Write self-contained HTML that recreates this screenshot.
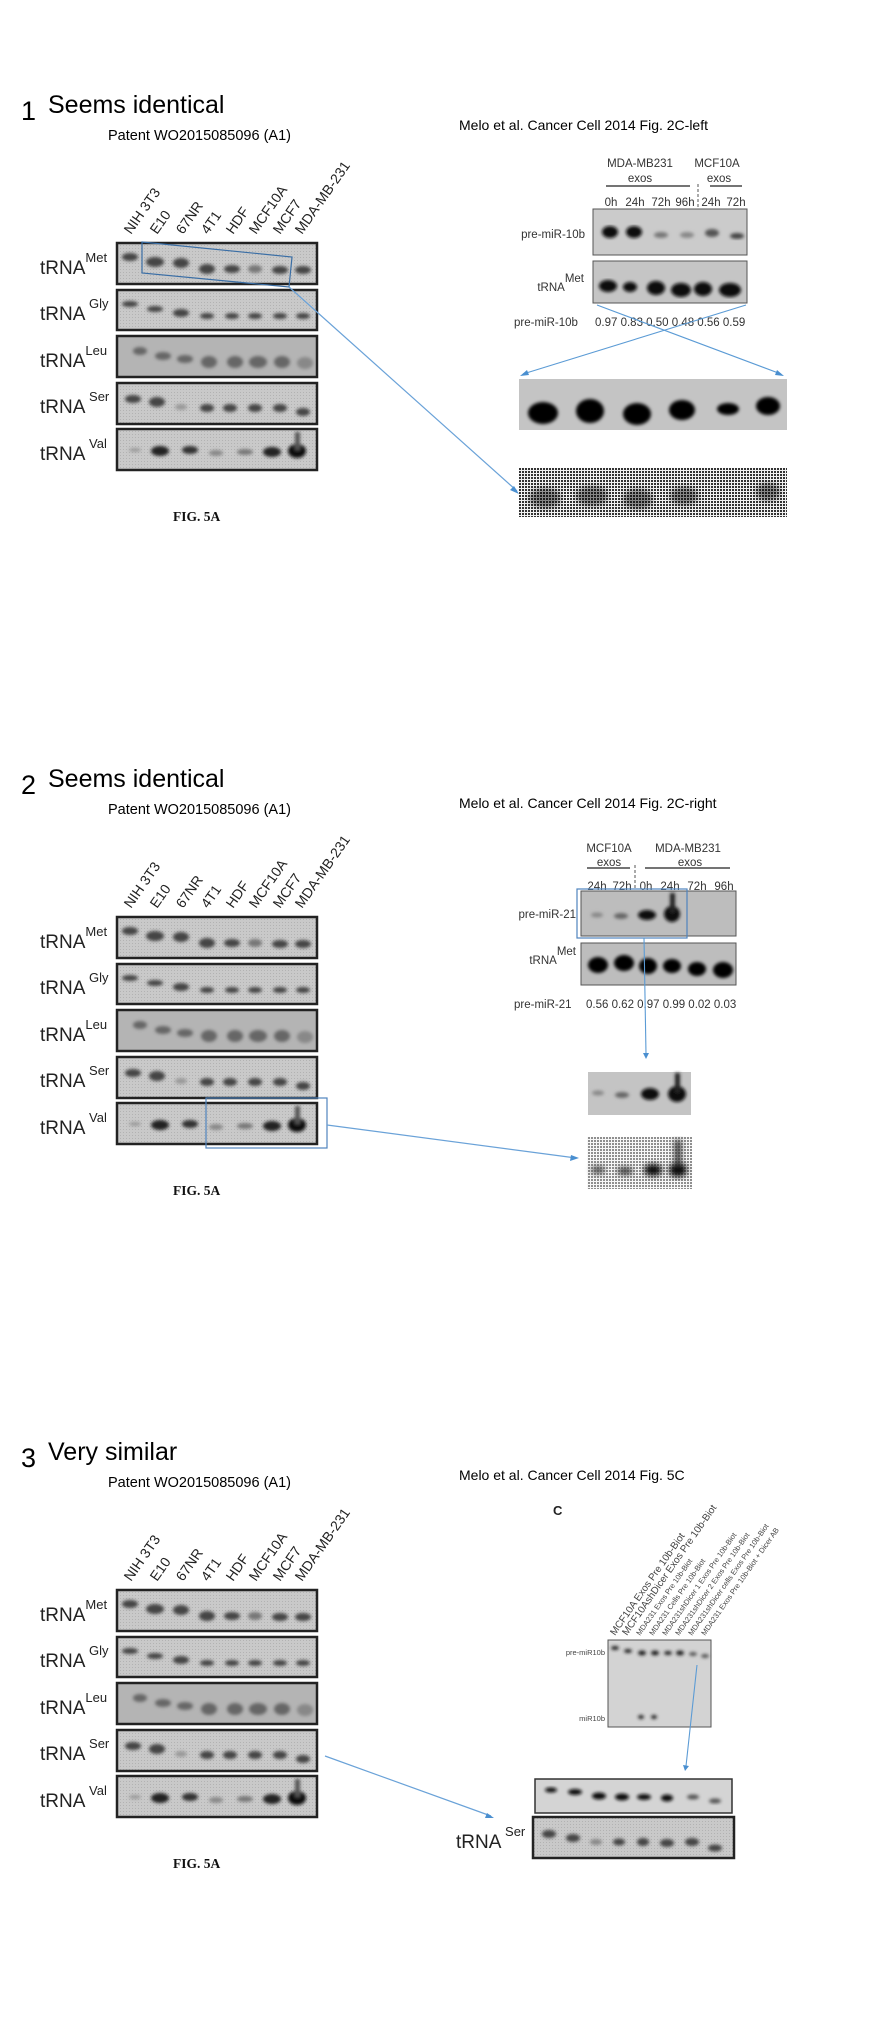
<!DOCTYPE html>
<html><head><meta charset="utf-8">
<style>
html,body{margin:0;padding:0;background:#fff;}
svg{display:block;}
.h{font-family:"Liberation Sans",sans-serif;font-size:25px;fill:#000;}
.n{font-family:"Liberation Sans",sans-serif;font-size:27px;fill:#000;}
.p{font-family:"Liberation Sans",sans-serif;font-size:14.5px;fill:#000;}
.t{font-family:"Liberation Sans",sans-serif;font-size:19px;fill:#222;}
.sup{font-size:13px;}
.cl{font-family:"Liberation Sans",sans-serif;font-size:14px;fill:#222;}
.a{font-family:"Liberation Sans",sans-serif;font-size:11.5px;fill:#333;}
.fig{font-family:"Liberation Serif",serif;font-weight:bold;font-size:13.5px;fill:#111;}
.s{font-family:"Liberation Sans",sans-serif;fill:#444;}
</style></head><body>
<svg width="871" height="2019" viewBox="0 0 871 2019" xmlns="http://www.w3.org/2000/svg">
<defs>
<pattern id="chk" width="3" height="3" patternUnits="userSpaceOnUse">
<rect width="3" height="3" fill="#f2f2f2"/><rect width="2" height="2" fill="#333"/>
</pattern>
<pattern id="fine" width="3" height="3" patternUnits="userSpaceOnUse">
<rect width="3" height="3" fill="#c9c9c9"/><rect width="1" height="1" fill="#b2b2b2"/>
</pattern>
<filter id="bl"><feGaussianBlur stdDeviation="1.6"/></filter>
<filter id="bl2"><feGaussianBlur stdDeviation="3"/></filter>
<g id="gel">
<rect x="117" y="1" width="200" height="41" fill="url(#fine)" stroke="#222" stroke-width="2.5"/>
<rect x="117" y="48" width="200" height="40" fill="url(#fine)" stroke="#222" stroke-width="2.5"/>
<rect x="117" y="94" width="200" height="41" fill="#b4b4b4" stroke="#222" stroke-width="2.5"/>
<rect x="117" y="141" width="200" height="41" fill="url(#fine)" stroke="#222" stroke-width="2.5"/>
<rect x="117" y="187" width="200" height="41" fill="url(#fine)" stroke="#222" stroke-width="2.5"/>
<g filter="url(#bl)" fill="#444">
<ellipse cx="130" cy="15" rx="8" ry="4"/><ellipse cx="155" cy="20" rx="9" ry="5"/><ellipse cx="181" cy="21" rx="8" ry="5"/><ellipse cx="207" cy="27" rx="8" ry="5"/><ellipse cx="232" cy="27" rx="8" ry="4"/><ellipse cx="255" cy="27" rx="7" ry="4" fill="#777"/><ellipse cx="280" cy="28" rx="8" ry="4"/><ellipse cx="303" cy="28" rx="8" ry="4"/>
<ellipse cx="130" cy="62" rx="8" ry="3"/><ellipse cx="155" cy="67" rx="8" ry="3"/><ellipse cx="181" cy="71" rx="8" ry="4"/><ellipse cx="207" cy="74" rx="7" ry="3"/><ellipse cx="232" cy="74" rx="7" ry="3"/><ellipse cx="255" cy="74" rx="7" ry="3"/><ellipse cx="280" cy="74" rx="7" ry="3"/><ellipse cx="303" cy="74" rx="7" ry="3"/>
<g fill="#666"><ellipse cx="140" cy="109" rx="7" ry="4"/><ellipse cx="163" cy="114" rx="8" ry="4"/><ellipse cx="185" cy="117" rx="8" ry="4"/><ellipse cx="209" cy="120" rx="8" ry="6"/><ellipse cx="235" cy="120" rx="8" ry="6"/><ellipse cx="258" cy="120" rx="9" ry="6"/><ellipse cx="282" cy="120" rx="8" ry="6"/><ellipse cx="305" cy="121" rx="8" ry="6" fill="#888"/></g>
<ellipse cx="133" cy="157" rx="8" ry="4"/><ellipse cx="157" cy="160" rx="8" ry="5"/><ellipse cx="181" cy="165" rx="6" ry="3" fill="#999"/><ellipse cx="207" cy="166" rx="7" ry="4"/><ellipse cx="230" cy="166" rx="7" ry="4"/><ellipse cx="255" cy="166" rx="7" ry="4"/><ellipse cx="280" cy="166" rx="7" ry="4"/><ellipse cx="303" cy="170" rx="7" ry="4"/>
<ellipse cx="135" cy="208" rx="6" ry="2" fill="#999"/><ellipse cx="160" cy="209" rx="9" ry="5" fill="#222"/><ellipse cx="190" cy="208" rx="8" ry="4" fill="#333"/><ellipse cx="216" cy="211" rx="7" ry="3" fill="#888"/><ellipse cx="245" cy="210" rx="8" ry="3" fill="#777"/><ellipse cx="272" cy="210" rx="9" ry="5" fill="#222"/><ellipse cx="297" cy="209" rx="9" ry="7" fill="#111"/><rect x="295" y="190" width="5" height="18" fill="#555"/>
</g>
</g>
</defs>

<!-- SECTION 1 -->
<text class="n" x="21" y="120">1</text><text class="h" x="48" y="113">Seems identical</text>
<text class="p" x="108" y="140">Patent WO2015085096 (A1)</text>
<g transform="translate(0,242)"><use href="#gel"/></g>
<g class="t"><text x="40" y="274">tRNA<tspan class="sup" dy="-12">Met</tspan></text><text x="40" y="320">tRNA<tspan class="sup" dy="-12"> Gly</tspan></text><text x="40" y="367">tRNA<tspan class="sup" dy="-12">Leu</tspan></text><text x="40" y="413">tRNA<tspan class="sup" dy="-12"> Ser</tspan></text><text x="40" y="460">tRNA<tspan class="sup" dy="-12"> Val</tspan></text></g>
<g class="cl">
<text transform="translate(131,235) rotate(-55)">NIH 3T3</text><text transform="translate(157,235) rotate(-55)">E10</text><text transform="translate(183,235) rotate(-55)">67NR</text><text transform="translate(208,235) rotate(-55)">4T1</text><text transform="translate(233,235) rotate(-55)">HDF</text><text transform="translate(256,235) rotate(-55)">MCF10A</text><text transform="translate(280,235) rotate(-55)">MCF7</text><text transform="translate(302,235) rotate(-55)">MDA-MB-231</text>
</g>
<text class="fig" x="173" y="521">FIG. 5A</text>
<polygon points="142,242 292,257 289,287 142,273" fill="none" stroke="#3a6ea5" stroke-width="1.2"/>
<line x1="289" y1="287" x2="517" y2="491" stroke="#6aa2d8" stroke-width="1.2"/>
<polygon points="519,494 510,490 514,486" fill="#4a8fd0"/>

<text class="p" x="459" y="130" style="font-size:14px">Melo et al. Cancer Cell 2014  Fig. 2C-left</text>
<g class="a" text-anchor="middle"><text x="640" y="167">MDA-MB231</text><text x="717" y="167">MCF10A</text><text x="640" y="182">exos</text><text x="719" y="182">exos</text></g>
<line x1="606" y1="186" x2="690" y2="186" stroke="#222" stroke-width="1.2"/><line x1="710" y1="186" x2="742" y2="186" stroke="#222" stroke-width="1.2"/>
<line x1="698" y1="184" x2="698" y2="208" stroke="#555" stroke-dasharray="3,2"/>
<g class="a" text-anchor="middle"><text x="611" y="206">0h</text><text x="635" y="206">24h</text><text x="661" y="206">72h</text><text x="685" y="206">96h</text><text x="711" y="206">24h</text><text x="736" y="206">72h</text></g>
<rect x="593" y="209" width="154" height="46" fill="#cbcbcb" stroke="#555"/>
<g filter="url(#bl)"><ellipse cx="610" cy="232" rx="8" ry="6" fill="#111"/><ellipse cx="634" cy="232" rx="8" ry="6" fill="#111"/><ellipse cx="661" cy="235" rx="7" ry="3" fill="#777"/><ellipse cx="687" cy="235" rx="7" ry="3" fill="#888"/><ellipse cx="712" cy="233" rx="7" ry="4" fill="#555"/><ellipse cx="737" cy="236" rx="7" ry="3" fill="#444"/></g>
<rect x="593" y="261" width="154" height="42" fill="#c5c5c5" stroke="#555"/>
<g filter="url(#bl)" fill="#080808"><ellipse cx="608" cy="286" rx="9" ry="6"/><ellipse cx="630" cy="287" rx="7" ry="5"/><ellipse cx="656" cy="288" rx="9" ry="7"/><ellipse cx="681" cy="290" rx="10" ry="7"/><ellipse cx="703" cy="289" rx="9" ry="7"/><ellipse cx="730" cy="290" rx="11" ry="7"/></g>
<g class="a"><text x="585" y="238" text-anchor="end">pre-miR-10b</text><text x="584" y="291" text-anchor="end">tRNA<tspan dy="-9">Met</tspan></text><text x="514" y="326">pre-miR-10b</text><text x="595" y="326">0.97 0.83  0.50  0.48 0.56 0.59</text></g>
<line x1="597" y1="305" x2="781" y2="374" stroke="#5b9bd5" stroke-width="1.1"/><polygon points="784,376 775,375 777,370" fill="#4a8fd0"/>
<line x1="746" y1="305" x2="523" y2="374" stroke="#5b9bd5" stroke-width="1.1"/><polygon points="520,376 527,370 529,375" fill="#4a8fd0"/>
<rect x="519" y="379" width="268" height="51" fill="#c4c4c4"/>
<g filter="url(#bl)" fill="#050505"><ellipse cx="543" cy="413" rx="15" ry="11"/><ellipse cx="590" cy="411" rx="14" ry="12"/><ellipse cx="637" cy="414" rx="14" ry="11"/><ellipse cx="682" cy="410" rx="13" ry="10"/><ellipse cx="728" cy="409" rx="11" ry="6"/><ellipse cx="768" cy="406" rx="12" ry="9"/></g>
<rect x="519" y="468" width="268" height="49" fill="url(#chk)"/>
<g filter="url(#bl2)" fill="#000" opacity="0.45"><ellipse cx="545" cy="498" rx="16" ry="10"/><ellipse cx="592" cy="496" rx="16" ry="10"/><ellipse cx="638" cy="499" rx="15" ry="10"/><ellipse cx="684" cy="496" rx="14" ry="9"/><ellipse cx="768" cy="492" rx="12" ry="9"/></g>

<!-- SECTION 2 -->
<text class="n" x="21" y="794">2</text><text class="h" x="48" y="787">Seems identical</text>
<text class="p" x="108" y="814">Patent WO2015085096 (A1)</text>
<g transform="translate(0,916)"><use href="#gel"/></g>
<g class="t"><text x="40" y="948">tRNA<tspan class="sup" dy="-12">Met</tspan></text><text x="40" y="994">tRNA<tspan class="sup" dy="-12"> Gly</tspan></text><text x="40" y="1041">tRNA<tspan class="sup" dy="-12">Leu</tspan></text><text x="40" y="1087">tRNA<tspan class="sup" dy="-12"> Ser</tspan></text><text x="40" y="1134">tRNA<tspan class="sup" dy="-12"> Val</tspan></text></g>
<g class="cl">
<text transform="translate(131,909) rotate(-55)">NIH 3T3</text><text transform="translate(157,909) rotate(-55)">E10</text><text transform="translate(183,909) rotate(-55)">67NR</text><text transform="translate(208,909) rotate(-55)">4T1</text><text transform="translate(233,909) rotate(-55)">HDF</text><text transform="translate(256,909) rotate(-55)">MCF10A</text><text transform="translate(280,909) rotate(-55)">MCF7</text><text transform="translate(302,909) rotate(-55)">MDA-MB-231</text>
</g>
<text class="fig" x="173" y="1195">FIG. 5A</text>
<rect x="206" y="1098" width="121" height="50" fill="none" stroke="#4f84bd" stroke-width="1.2"/>
<line x1="327" y1="1125" x2="576" y2="1158" stroke="#6aa2d8" stroke-width="1.2"/><polygon points="579,1158 570,1161 571,1155" fill="#4a8fd0"/>

<text class="p" x="459" y="808" style="font-size:14px">Melo et al. Cancer Cell 2014  Fig. 2C-right</text>
<g class="a" text-anchor="middle"><text x="609" y="852">MCF10A</text><text x="688" y="852">MDA-MB231</text><text x="609" y="866">exos</text><text x="690" y="866">exos</text></g>
<line x1="587" y1="868" x2="630" y2="868" stroke="#222" stroke-width="1.2"/><line x1="645" y1="868" x2="730" y2="868" stroke="#222" stroke-width="1.2"/>
<line x1="635" y1="865" x2="635" y2="890" stroke="#555" stroke-dasharray="3,2"/>
<g class="a" text-anchor="middle"><text x="597" y="890">24h</text><text x="622" y="890">72h</text><text x="646" y="890">0h</text><text x="670" y="890">24h</text><text x="697" y="890">72h</text><text x="724" y="890">96h</text></g>
<rect x="581" y="891" width="155" height="45" fill="#bdbdbd" stroke="#555"/>
<g filter="url(#bl)"><ellipse cx="597" cy="915" rx="6" ry="2.5" fill="#888"/><ellipse cx="621" cy="916" rx="7" ry="3" fill="#666"/><ellipse cx="647" cy="915" rx="9" ry="5" fill="#111"/><ellipse cx="672" cy="914" rx="8" ry="8" fill="#111"/><rect x="670" y="893" width="5" height="20" fill="#222"/></g>
<rect x="581" y="943" width="155" height="42" fill="#bdbdbd" stroke="#555"/>
<g filter="url(#bl)" fill="#050505"><ellipse cx="598" cy="965" rx="10" ry="8"/><ellipse cx="624" cy="963" rx="10" ry="8"/><ellipse cx="648" cy="966" rx="9" ry="8"/><ellipse cx="672" cy="966" rx="9" ry="7"/><ellipse cx="697" cy="969" rx="9" ry="7"/><ellipse cx="723" cy="970" rx="10" ry="8"/></g>
<g class="a"><text x="576" y="918" text-anchor="end">pre-miR-21</text><text x="576" y="964" text-anchor="end">tRNA<tspan dy="-9">Met</tspan></text><text x="514" y="1008">pre-miR-21</text><text x="586" y="1008">0.56  0.62 0.97 0.99 0.02 0.03</text></g>
<rect x="577" y="889" width="110" height="49" fill="none" stroke="#4f84bd" stroke-width="1.2"/>
<line x1="644" y1="938" x2="646" y2="1054" stroke="#5b9bd5" stroke-width="1.1"/><polygon points="643,1053 649,1053 646,1059" fill="#4a8fd0"/>
<rect x="588" y="1072" width="103" height="43" fill="#c4c4c4"/>
<g filter="url(#bl)"><ellipse cx="598" cy="1093" rx="6" ry="2.5" fill="#888"/><ellipse cx="622" cy="1095" rx="7" ry="3" fill="#666"/><ellipse cx="650" cy="1094" rx="9" ry="6" fill="#111"/><ellipse cx="677" cy="1094" rx="9" ry="8" fill="#111"/><rect x="675" y="1073" width="5" height="20" fill="#222"/></g>
<rect x="587" y="1137" width="105" height="52" fill="url(#chk)" opacity="0.55"/>
<g filter="url(#bl2)"><ellipse cx="598" cy="1170" rx="7" ry="4" fill="#555"/><ellipse cx="625" cy="1171" rx="8" ry="4" fill="#444"/><ellipse cx="653" cy="1170" rx="9" ry="6" fill="#111"/><ellipse cx="678" cy="1170" rx="9" ry="7" fill="#111"/><rect x="675" y="1140" width="6" height="25" fill="#333"/></g>

<!-- SECTION 3 -->
<text class="n" x="21" y="1467">3</text><text class="h" x="48" y="1460">Very similar</text>
<text class="p" x="108" y="1487">Patent WO2015085096 (A1)</text>
<g transform="translate(0,1589)"><use href="#gel"/></g>
<g class="t"><text x="40" y="1621">tRNA<tspan class="sup" dy="-12">Met</tspan></text><text x="40" y="1667">tRNA<tspan class="sup" dy="-12"> Gly</tspan></text><text x="40" y="1714">tRNA<tspan class="sup" dy="-12">Leu</tspan></text><text x="40" y="1760">tRNA<tspan class="sup" dy="-12"> Ser</tspan></text><text x="40" y="1807">tRNA<tspan class="sup" dy="-12"> Val</tspan></text></g>
<g class="cl">
<text transform="translate(131,1582) rotate(-55)">NIH 3T3</text><text transform="translate(157,1582) rotate(-55)">E10</text><text transform="translate(183,1582) rotate(-55)">67NR</text><text transform="translate(208,1582) rotate(-55)">4T1</text><text transform="translate(233,1582) rotate(-55)">HDF</text><text transform="translate(256,1582) rotate(-55)">MCF10A</text><text transform="translate(280,1582) rotate(-55)">MCF7</text><text transform="translate(302,1582) rotate(-55)">MDA-MB-231</text>
</g>
<text class="fig" x="173" y="1868">FIG. 5A</text>
<line x1="325" y1="1756" x2="491" y2="1816" stroke="#6aa2d8" stroke-width="1.2"/><polygon points="494,1818 485,1818 487,1813" fill="#4a8fd0"/>

<text class="p" x="459" y="1480" style="font-size:14px">Melo et al. Cancer Cell 2014  Fig. 5C</text>
<text x="553" y="1515" style="font-family:'Liberation Sans',sans-serif;font-weight:bold;font-size:13px;fill:#222">C</text>
<g class="s">
<text transform="translate(615,1636) rotate(-55)" style="font-size:10px">MCF10A Exos Pre 10b-Biot</text>
<text transform="translate(627,1636) rotate(-55)" style="font-size:10px">MCF10AshDicer Exos Pre 10b-Biot</text>
<text transform="translate(640,1636) rotate(-55)" style="font-size:7.5px">MDA231 Exos Pre 10b-Biot</text>
<text transform="translate(653,1636) rotate(-55)" style="font-size:7.5px">MDA231 Cells Pre 10b-Biot</text>
<text transform="translate(666,1636) rotate(-55)" style="font-size:7.5px">MDA231shDicer 1 Exos Pre 10b-Biot</text>
<text transform="translate(679,1636) rotate(-55)" style="font-size:7.5px">MDA231shDicer 2 Exos Pre 10b-Biot</text>
<text transform="translate(692,1636) rotate(-55)" style="font-size:7.5px">MDA231shDicer cells  Exos Pre 10b-Biot</text>
<text transform="translate(705,1636) rotate(-55)" style="font-size:7.5px">MDA231 Exos Pre 10b-Biot + Dicer AB</text>
</g>
<rect x="608" y="1640" width="103" height="87" fill="#d3d3d3" stroke="#555"/>
<g filter="url(#bl)" fill="#222"><ellipse cx="615" cy="1648" rx="4" ry="2"/><ellipse cx="628" cy="1651" rx="4" ry="2"/><ellipse cx="642" cy="1653" rx="4" ry="2.5"/><ellipse cx="655" cy="1653" rx="4" ry="2.5"/><ellipse cx="668" cy="1653" rx="4" ry="2"/><ellipse cx="680" cy="1653" rx="4" ry="2.5"/><ellipse cx="693" cy="1654" rx="4" ry="2" fill="#555"/><ellipse cx="705" cy="1656" rx="4" ry="2" fill="#555"/><ellipse cx="641" cy="1717" rx="3" ry="2"/><ellipse cx="654" cy="1717" rx="3" ry="2"/></g>
<g class="s" style="font-size:7.5px" text-anchor="end"><text x="605" y="1655">pre-miR10b</text><text x="605" y="1721">miR10b</text></g>
<line x1="697" y1="1665" x2="686" y2="1766" stroke="#5b9bd5" stroke-width="1.1"/><polygon points="683,1765 689,1766 685,1771" fill="#4a8fd0"/>
<rect x="535" y="1779" width="197" height="34" fill="#d4d4d4" stroke="#333" stroke-width="1.5"/>
<g filter="url(#bl)" fill="#111"><ellipse cx="551" cy="1790" rx="6" ry="2.5"/><ellipse cx="575" cy="1792" rx="7" ry="3"/><ellipse cx="599" cy="1796" rx="7" ry="3.5"/><ellipse cx="622" cy="1797" rx="7" ry="3.5"/><ellipse cx="644" cy="1797" rx="7" ry="3"/><ellipse cx="667" cy="1798" rx="6" ry="3.5"/><ellipse cx="693" cy="1797" rx="6" ry="2.5" fill="#555"/><ellipse cx="715" cy="1801" rx="6" ry="2.5" fill="#555"/></g>
<rect x="533" y="1817" width="201" height="41" fill="url(#fine)" stroke="#222" stroke-width="2.5"/>
<g filter="url(#bl)" fill="#444"><ellipse cx="549" cy="1834" rx="7" ry="4"/><ellipse cx="573" cy="1838" rx="7" ry="4"/><ellipse cx="596" cy="1842" rx="6" ry="3" fill="#888"/><ellipse cx="619" cy="1842" rx="6" ry="3.5"/><ellipse cx="643" cy="1842" rx="6" ry="4"/><ellipse cx="667" cy="1843" rx="7" ry="4"/><ellipse cx="692" cy="1842" rx="7" ry="4"/><ellipse cx="715" cy="1848" rx="7" ry="3.5"/></g>
<text class="t" x="456" y="1848">tRNA<tspan class="sup" dy="-12"> Ser</tspan></text>
</svg>
</body></html>
